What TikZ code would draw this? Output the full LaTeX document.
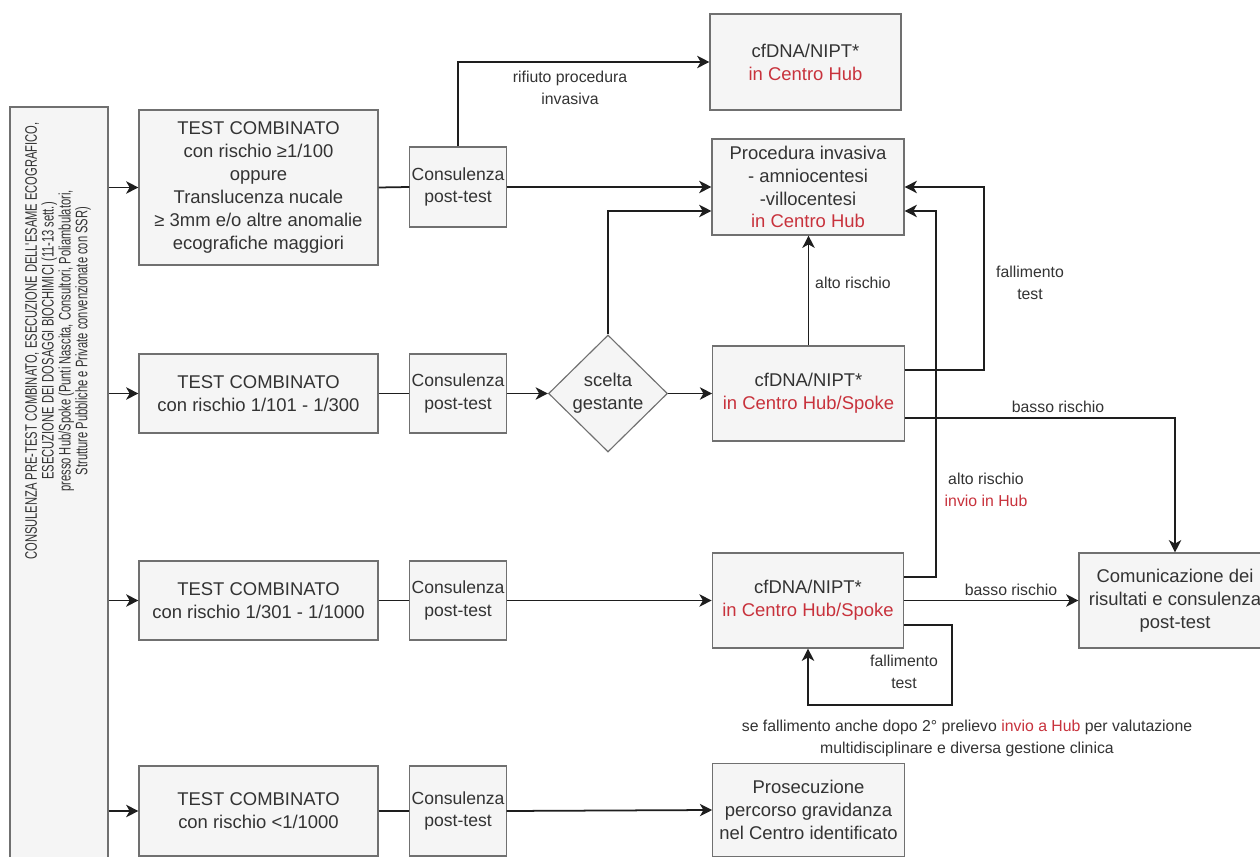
\documentclass[tikz,border=0pt]{standalone}
\usepackage{fontspec}
\setmainfont{Liberation Sans}
\newfontfamily\narrowfont[FakeStretch=0.67]{Liberation Sans}
\usetikzlibrary{arrows.meta,shapes.geometric,calc}
\definecolor{boxfill}{HTML}{F5F5F5}
\definecolor{boxline}{HTML}{707070}
\definecolor{txt}{HTML}{333333}
\definecolor{hubred}{HTML}{C8323C}
\definecolor{conn}{HTML}{1E1E1E}
\newcommand{\hub}[1]{\textcolor{hubred}{#1}}
\begin{document}
\begin{tikzpicture}[x=0.02cm,y=-0.02cm,
  box/.style={draw=boxline, fill=boxfill, text=txt, align=center, inner sep=1pt,
    line width=0.65pt, font=\fontsize{10.5}{13}\selectfont},
  cbox/.style={box, font=\fontsize{10}{13}\selectfont, minimum width=1.92cm},
  tbox/.style={box, minimum width=4.78cm},
  rbox/.style={box, minimum width=3.83cm, minimum height=1.9cm},
  lbl/.style={text=txt, align=center, inner sep=0pt, font=\fontsize{9}{12.5}\selectfont},
  conline/.style={draw=conn, line width=1pt},
  arr/.style={conline, -{Stealth[length=7pt,width=7pt,inset=2pt]}}
]
\useasboundingbox (0,0) rectangle (1260,857);
\clip (0,0) rectangle (1260,857);
\fill[white] (0,0) rectangle (1260,857);

% left tall box
\node[box, minimum width=1.96cm, minimum height=15.5cm] (L) at (59,494.5) {};
\node[text=txt, align=center, inner sep=0pt, rotate=90,
  font=\narrowfont\fontsize{9.5}{9.6}\selectfont] (Ltext) at (58,341)
  {CONSULENZA PRE-TEST COMBINATO, ESECUZIONE DELL'ESAME ECOGRAFICO,\\
   ESECUZIONE DEI DOSAGGI BIOCHIMICI (11-13 sett.)\\
   presso Hub/Spoke (Punti Nascita, Consultori, Poliambulatori,\\
   Strutture Pubbliche e Private convenzionate con SSR)};

% row 1
\node[tbox, minimum height=3.1cm] (T1) at (258.5,187.5)
  {TEST COMBINATO\\con rischio ≥1/100\\oppure\\Translucenza nucale\\≥ 3mm e/o altre anomalie\\ecografiche maggiori};
\node[cbox, minimum height=1.6cm] (C1) at (458,187) {Consulenza\\post-test};
\node[rbox, minimum width=3.82cm, minimum height=1.92cm] (N0) at (805.5,62) {cfDNA/NIPT*\\\hub{in Centro Hub}};
\node[rbox, minimum width=3.84cm, minimum height=1.92cm] (P) at (808,187)
  {Procedura invasiva\\- amniocentesi\\-villocentesi\\\hub{in Centro Hub}};

% row 2
\node[tbox, minimum height=1.58cm] (T2) at (258.5,393.5) {TEST COMBINATO\\con rischio 1/101 - 1/300};
\node[cbox, minimum height=1.58cm] (C2) at (458,393.5) {Consulenza\\post-test};
\node[diamond, draw=boxline, fill=boxfill, text=txt, align=center, inner sep=0pt,
  line width=0.65pt, minimum width=2.38cm, minimum height=2.34cm,
  font=\fontsize{10.5}{13}\selectfont] (D) at (608,393.5) {scelta\\gestante};
\node[rbox] (N2) at (808.5,393.5) {cfDNA/NIPT*\\\hub{in Centro Hub/Spoke}};

% row 3
\node[tbox, minimum height=1.58cm] (T3) at (258.5,600.5) {TEST COMBINATO\\con rischio 1/301 - 1/1000};
\node[cbox, minimum height=1.58cm] (C3) at (458,600.5) {Consulenza\\post-test};
\node[rbox] (N3) at (808,600.5) {cfDNA/NIPT*\\\hub{in Centro Hub/Spoke}};
\node[rbox, minimum width=3.84cm] (R) at (1175,600.5) {Comunicazione dei\\risultati e consulenza\\post-test};

% row 4
\node[tbox, minimum height=1.8cm] (T4) at (258.5,811) {TEST COMBINATO\\con rischio <1/1000};
\node[cbox, minimum height=1.8cm] (C4) at (458,811) {Consulenza\\post-test};
\node[rbox, minimum height=1.86cm] (Q) at (808.5,810) {Prosecuzione\\percorso gravidanza\\nel Centro identificato};

% connectors from left box
\draw[arr] (L.east |- T1.west) -- (T1.west);
\draw[arr] (L.east |- T2.west) -- (T2.west);
\draw[arr] (L.east |- T3.west) -- (T3.west);
\draw[arr] (L.east |- T4.west) -- (T4.west);

% row 1 connectors
\draw[conline] (T1.east) -- (C1.west);
\draw[arr] (C1.east) -- (P.west);
\draw[arr] (C1.north) |- (N0.west);
\node[lbl] (l1) at (570,88) {rifiuto procedura\\invasiva};

% row 2 connectors
\draw[conline] (T2.east) -- (C2.west);
\draw[arr] (C2.east) -- (D.west);
\draw[arr] (D.east) -- (N2.west);
\draw[arr] (D.north) |- ($(P.west)+(0,24)$);
\draw[arr] (N2.north) -- (N2.north |- P.south);
\node[lbl] (l2) at (853,283) {alto rischio};
\draw[arr] ($(N2.east)+(0,-23.5)$) -- ++(79,0) |- (P.east);
\node[lbl] (l3) at (1030,283) {fallimento\\test};
\draw[arr] ($(N2.east)+(0,24.5)$) -| (R.north);
\node[lbl] (l4) at (1058,407) {basso rischio};

% row 3 connectors
\draw[conline] (T3.east) -- (C3.west);
\draw[arr] (C3.east) -- (N3.west);
\draw[arr] ($(N3.east)+(0,-23.5)$) -- ++(32,0) |- ($(P.east)+(0,24)$);
\node[lbl] (l5) at (986,490) {alto rischio\\\hub{invio in Hub}};
\draw[arr] (N3.east) -- (R.west);
\node[lbl] (l6) at (1011,590) {basso rischio};
\draw[arr] ($(N3.east)+(0,24.5)$) -- ++(48,0) -- ++(0,80) -| (N3.south);
\node[lbl] (l7) at (904,672) {fallimento\\test};
\node[lbl] (l8) at (967,738) {se fallimento anche dopo 2° prelievo \hub{invio a Hub} per valutazione\\multidisciplinare e diversa gestione clinica};

% row 4 connectors
\draw[conline] (T4.east) -- (C4.west);
\draw[arr] (C4.east) -- (Q.west);
\end{tikzpicture}
\end{document}
